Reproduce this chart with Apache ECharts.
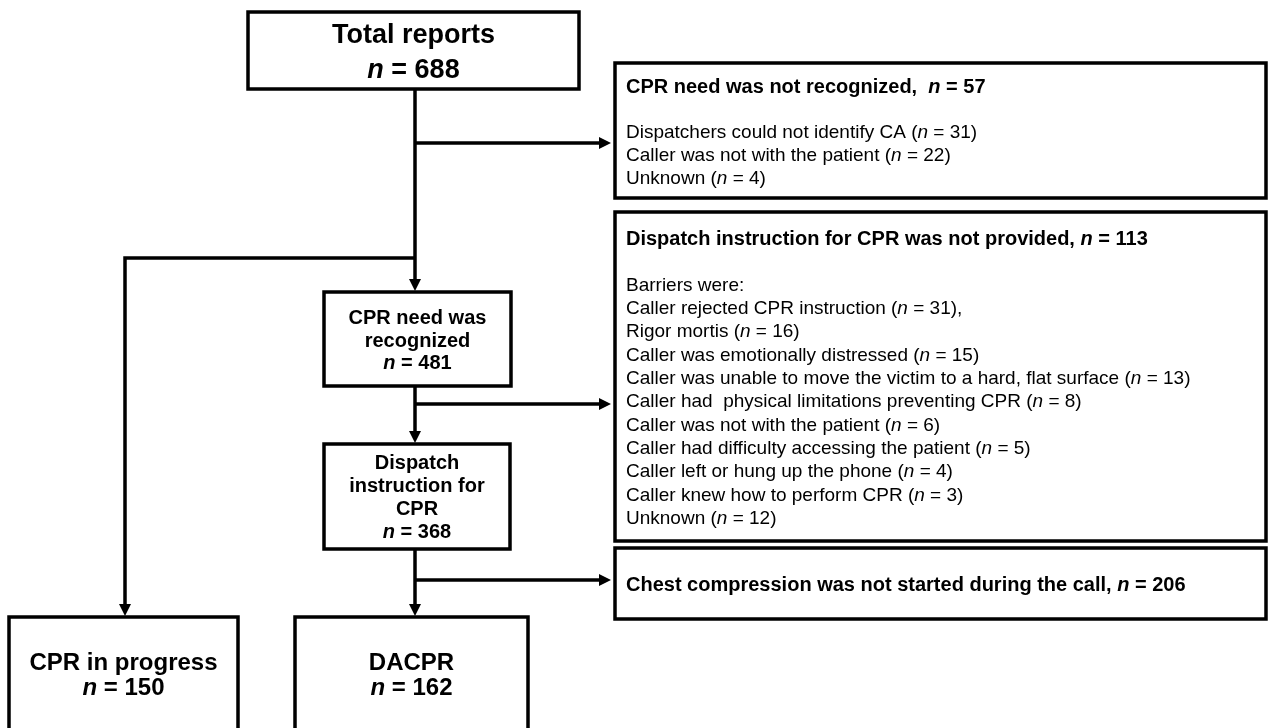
<!DOCTYPE html>
<html>
<head>
<meta charset="utf-8">
<title>DACPR flow</title>
<script src="https://cdn.jsdelivr.net/npm/echarts@6/dist/echarts.min.js"></script>
<style>
html,body{margin:0;padding:0;background:#fff;}
#main{width:1268px;height:728px;}
</style>
</head>
<body>
<div id="main"></div>
<script>
// counts
var totalN = 688;
var recognizedN = 481;
var instructedN = 368;
var inProgressN = 150;
var dacprN = 162;

var notRecognizedN = 57;
var notRecognizedReasons = ['Dispatchers could not identify CA', 'Caller was not with the patient', 'Unknown'];
var notRecognizedCounts = [31, 22, 4];

var notProvidedN = 113;
var barrierReasons = [
  'Caller rejected CPR instruction',
  'Rigor mortis',
  'Caller was emotionally distressed',
  'Caller was unable to move the victim to a hard, flat surface',
  'Caller had  physical limitations preventing CPR',
  'Caller was not with the patient',
  'Caller had difficulty accessing the patient',
  'Caller left or hung up the phone',
  'Caller knew how to perform CPR',
  'Unknown'
];
var barrierCounts = [31, 16, 15, 13, 8, 6, 5, 4, 3, 12];

var notStartedN = 206;

var FONT = '"Liberation Sans", Arial, Helvetica, sans-serif';

function nBold(n) { return '{bi|n}{b| = ' + n + '}'; }
function nReg(n) { return '{ri|n}{r| = ' + n + '}'; }

function richSet(fs, lh, tfs) {
  return {
    b: { fontFamily: FONT, fontWeight: 'bold', fontSize: tfs || fs, lineHeight: lh, fill: '#000' },
    bi: { fontFamily: FONT, fontWeight: 'bold', fontStyle: 'italic', fontSize: tfs || fs, lineHeight: lh, fill: '#000' },
    r: { fontFamily: FONT, fontSize: fs, lineHeight: lh, fill: '#000' },
    ri: { fontFamily: FONT, fontStyle: 'italic', fontSize: fs, lineHeight: lh, fill: '#000' },
    e: { fontSize: fs, lineHeight: lh }
  };
}

var notRecText = '{b|CPR need was not recognized,  }' + nBold(notRecognizedN) + '\n{e| }\n' +
  notRecognizedReasons.map(function (r, i) {
    return '{r|' + r + ' (}' + nReg(notRecognizedCounts[i]) + '{r|)}';
  }).join('\n');

var notProvText = '{b|Dispatch instruction for CPR was not provided, }' + nBold(notProvidedN) + '\n{e| }\n{r|Barriers were:}\n' +
  barrierReasons.map(function (r, i) {
    return '{r|' + r + ' (}' + nReg(barrierCounts[i]) + '{r|)' + (i === 0 ? ',' : '') + '}';
  }).join('\n');

var notStartText = '{b|Chest compression was not started during the call, }' + nBold(notStartedN);

// layout: box rectangles [x0, y0, x1, y1] in page pixels, text anchor and type sizes
var boxes = [
  { rect: [248, 12, 579, 89], text: '{b|Total reports}\n' + nBold(totalN), center: true, ty: 53, fs: 27, lh: 35 },
  { rect: [324, 292, 511, 386], text: '{b|CPR need was}\n{b|recognized}\n' + nBold(recognizedN), center: true, ty: 341, fs: 20, lh: 22.5 },
  { rect: [324, 444, 510, 549], text: '{b|Dispatch}\n{b|instruction for}\n{b|CPR}\n' + nBold(instructedN), center: true, ty: 497.5, fs: 20, lh: 23 },
  { rect: [9, 617, 238, 760], text: '{b|CPR in progress}\n' + nBold(inProgressN), center: true, ty: 676, fs: 24, lh: 25 },
  { rect: [295, 617, 528, 760], text: '{b|DACPR}\n' + nBold(dacprN), center: true, ty: 676, fs: 24, lh: 25 },
  { rect: [615, 63, 1266, 198], text: notRecText, center: false, tx: 626, ty: 87, fs: 19, tfs: 20, lh: 23 },
  { rect: [615, 212, 1266, 541], text: notProvText, center: false, tx: 626, ty: 239, fs: 19, tfs: 20, lh: 23.3 },
  { rect: [615, 548, 1266, 619], text: notStartText, center: false, tx: 626, ty: 585, fs: 19, tfs: 20, lh: 23 }
];

// connector paths, last point is the arrow tip
var arrows = [
  [[415, 89], [415, 291]],
  [[415, 143], [611, 143]],
  [[415, 258], [125, 258], [125, 616]],
  [[415, 386], [415, 443]],
  [[415, 404], [611, 404]],
  [[415, 549], [415, 616]],
  [[415, 580], [611, 580]]
];

var boxData = boxes.map(function (b, i) { return b.rect.concat([i]); });
var arrowData = arrows.map(function (a, i) {
  var s = a[0], e = a[a.length - 1];
  return [s[0], s[1], e[0], e[1], i];
});

function renderBox(params, api) {
  var b = boxes[api.value(4)];
  var p0 = api.coord([api.value(0), api.value(1)]);
  var p1 = api.coord([api.value(2), api.value(3)]);
  var children = [{
    type: 'rect',
    shape: { x: p0[0], y: p0[1], width: p1[0] - p0[0], height: p1[1] - p0[1] },
    style: { fill: '#fff', stroke: '#000', lineWidth: 3.5 }
  }];
  var t;
  if (b.center) {
    t = api.coord([(b.rect[0] + b.rect[2]) / 2, b.ty]);
    children.push({
      type: 'text', x: t[0], y: t[1],
      style: { text: b.text, rich: richSet(b.fs, b.lh), align: 'center', verticalAlign: 'middle' }
    });
  } else {
    t = api.coord([b.tx, b.ty - b.lh / 2]);
    children.push({
      type: 'text', x: t[0], y: t[1],
      style: { text: b.text, rich: richSet(b.fs, b.lh, b.tfs), align: 'left', verticalAlign: 'top' }
    });
  }
  return { type: 'group', children: children };
}

function renderArrow(params, api) {
  var path = arrows[api.value(4)].map(function (pt) { return api.coord(pt); });
  var n = path.length;
  var tip = path[n - 1], prev = path[n - 2];
  var dx = tip[0] - prev[0], dy = tip[1] - prev[1];
  var len = Math.sqrt(dx * dx + dy * dy);
  var ux = dx / len, uy = dy / len;
  var hl = 12, hw = 6;
  var base = [tip[0] - ux * hl, tip[1] - uy * hl];
  var pts = path.slice(0, n - 1).concat([base]);
  return {
    type: 'group',
    children: [
      { type: 'polyline', shape: { points: pts }, style: { stroke: '#000', lineWidth: 3.5, fill: null } },
      {
        type: 'polygon',
        shape: { points: [tip, [base[0] - uy * hw, base[1] + ux * hw], [base[0] + uy * hw, base[1] - ux * hw]] },
        style: { fill: '#000' }
      }
    ]
  };
}

var myChart = echarts.init(document.getElementById('main'));
var option = {
  backgroundColor: '#fff',
  animation: false,
  grid: { left: 0, right: 0, top: 0, bottom: 0 },
  xAxis: { type: 'value', min: 0, max: 1268, show: false },
  yAxis: { type: 'value', min: 0, max: 728, inverse: true, show: false },
  series: [
    {
      type: 'custom',
      name: 'arrows',
      renderItem: renderArrow,
      encode: { x: [0, 2], y: [1, 3] },
      data: arrowData,
      silent: true
    },
    {
      type: 'custom',
      name: 'boxes',
      renderItem: renderBox,
      encode: { x: [0, 2], y: [1, 3] },
      data: boxData,
      silent: true
    }
  ]
};
myChart.setOption(option);
</script>
</body>
</html>
